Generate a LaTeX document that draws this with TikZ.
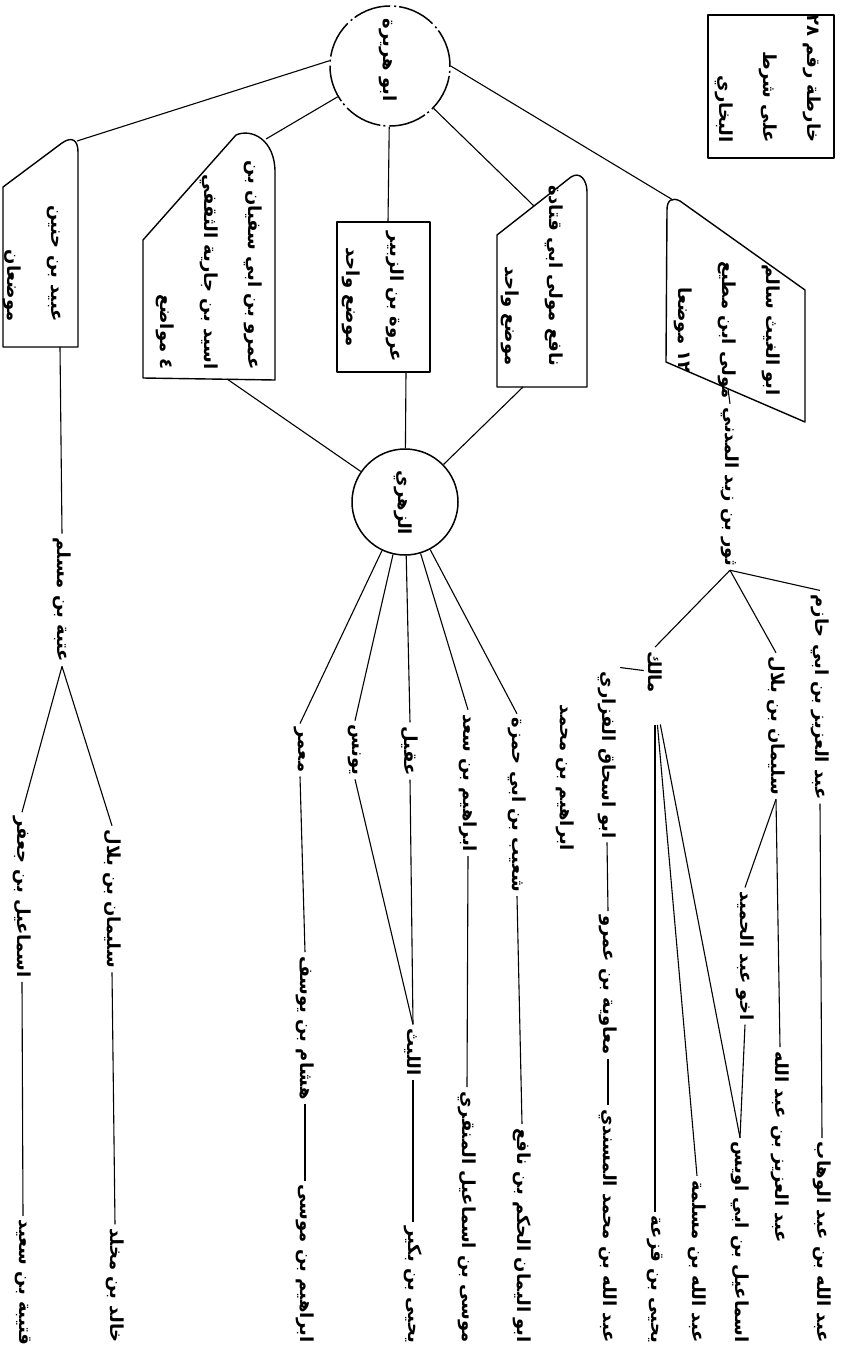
\documentclass[tikz,border=0pt]{standalone}
\usepackage{fontspec}
\TeXXeTstate=1
\newfontfamily\arfont[Script=Arabic]{DejaVu Sans}
\newcommand{\AR}[1]{\beginR #1\endR}
\tikzset{
  lbl/.style={rotate=-90, inner sep=4pt, font=\arfont\bfseries\fontsize{18}{44}\selectfont},
  lblr/.style={lbl, align=right},
  lblc/.style={lbl, align=center},
  conn/.style={line width=1.1pt},
  boxline/.style={line width=1.4pt, line join=round},
  circ/.style={circle, draw, line width=1.5pt, inner sep=0pt},
}
\begin{document}
\begin{tikzpicture}[x=1pt,y=-1pt]
\fill[white] (0,0) rectangle (848,1357);
\useasboundingbox (0,0) rectangle (848,1357);

% legend
\draw[boxline] (708,15) rectangle (834,158);
\node[lblr, anchor=east] (legend) at (768,147) {\AR{خارطة رقم ٢٨}\\\AR{على شرط}\\\AR{البخاري}};

% root
\node[circ, minimum size=120pt, dash pattern=on 38pt off 3pt on 2pt off 4pt] (root) at (390,66) {};
\node[lbl] (roott) at (388,60) {\AR{ابو هريرة}};

% box a
\draw[boxline] (3,347) -- (3,187) -- (62,143) .. controls (72,136) and (78,140) .. (78,152) -- (78,347) -- cycle;
\coordinate (atop) at (77,141);
\coordinate (abot) at (60,347);
\node[lblr, anchor=east] (at) at (32,326) {\AR{عبيد بن حنين}\\\AR{موضعان}};

% box b
\draw[boxline] (143,378) -- (143,240) -- (236,135) .. controls (252,128) and (275,140) .. (275,172) -- (275,380) -- cycle;
\coordinate (btop) at (266,139);
\coordinate (bbot) at (227,379);
\node[lblr, anchor=east] (bt) at (209,374) {\AR{عمرو بن ابي سفيان بن}\\\AR{اسيد بن جارية الثقفي}\\\AR{٤ مواضع}};

% box c
\draw[boxline] (337,222) rectangle (430,372);
\coordinate (ctop) at (388,222);
\coordinate (cbot) at (406,372);
\node[lblc] (ct) at (373,297) {\AR{عروة بن الزبير}\\\AR{موضع واحد}};

% box d
\draw[boxline] (497,387) -- (497,235) -- (571,177) .. controls (580,171) and (587,180) .. (587,192) -- (587,387) -- cycle;
\coordinate (dmid) at (534,206);
\coordinate (dbot) at (523,387);
\node[lblr, anchor=east] (dt) at (532,370) {\AR{نافع مولى ابي قتادة}\\\AR{موضع واحد}};

% box e
\draw[boxline] (666,362) -- (667,210) .. controls (667,200) and (672,197) .. (680,201) -- (805,290) -- (805,422) -- cycle;
\coordinate (etop) at (673,200);
\coordinate (ebot) at (728,389);
\node[lblc] (et) at (727,330) {\AR{ابو الغيث سالم}\\\AR{مولى ابن مطيع}\\\AR{١٢ موضعا}};

% zuhri
\node[circ, minimum size=106pt] (zuhri) at (405,502) {};
\node[lbl] (zuhrit) at (403,503) {\AR{الزهري}};

% thawr branch
\node[lbl] (thawr) at (730,487) {\AR{ثور بن زيد المدني}};
\node[lbl] (azhazim) at (820,697) {\AR{عبد العزيز بن ابي حازم}};
\node[lbl] (sulay1) at (776,726) {\AR{سليمان بن بلال}};
\node[lbl] (malik) at (655,672) {\AR{مالك}};
\node[lbl] (fazari) at (607,755) {\AR{ابو اسحاق الفزاري}};
\node[lbl] (ibmuh) at (565,778) {\AR{ابراهيم بن محمد}};
\node[lbl, anchor=east] (abwahhab) at (822,1347) {\AR{عبد الله بن عبد الوهاب}};
\node[lbl, anchor=east] (azabdallah) at (780,1247) {\AR{عبد العزيز بن عبد الله}};
\node[lbl] (akhu) at (745,956) {\AR{اخو عبد الحميد}};
\node[lbl, anchor=east] (ismuways) at (740,1347) {\AR{اسماعيل بن ابي اويس}};
\node[lbl, anchor=east] (abmaslama) at (697,1347) {\AR{عبد الله بن مسلمة}};
\node[lbl, anchor=east] (yahqaza) at (655,1347) {\AR{يحيى بن قزعة}};
\node[lbl] (muawiya) at (608,985) {\AR{معاوية بن عمرو}};
\node[lbl, anchor=east] (musnadi) at (608,1347) {\AR{عبد الله بن محمد المسندي}};

% zuhri branch
\node[lbl] (shuayb) at (517,805) {\AR{شعيب بن ابي حمزة}};
\node[lbl] (ibsaad) at (468,783) {\AR{ابراهيم بن سعد}};
\node[lbl] (uqayl) at (410,751) {\AR{عقيل}};
\node[lbl] (yunus) at (355,750) {\AR{يونس}};
\node[lbl] (mamar) at (300,750) {\AR{معمر}};
\node[lbl, anchor=east] (abulyaman) at (522,1347) {\AR{ابو اليمان الحكم بن نافع}};
\node[lbl, anchor=east] (musa) at (467,1347) {\AR{موسى بن اسماعيل المنقري}};
\node[lbl] (layth) at (413,1052) {\AR{الليث}};
\node[lbl, anchor=east] (yahbukayr) at (413,1347) {\AR{يحيى بن بكير}};
\node[lbl] (hisham) at (305,1028) {\AR{هشام بن يوسف}};
\node[lbl, anchor=east] (ibmusa) at (305,1347) {\AR{ابراهيم بن موسى}};

% ubayd branch
\node[lbl] (utba) at (62,600) {\AR{عتبة بن مسلم}};
\node[lbl] (ismjafar) at (22,897) {\AR{اسماعيل بن جعفر}};
\node[lbl] (sulay2) at (112,899) {\AR{سليمان بن بلال}};
\node[lbl, anchor=east] (qutayba) at (23,1350) {\AR{قتيبة بن سعيد}};
\node[lbl, anchor=east] (khalid) at (115,1347) {\AR{خالد بن مخلد}};

% connectors from root
\draw[conn] (root.175) -- (atop);
\draw[conn] (root) -- (btop);
\draw[conn] (root) -- (ctop);
\draw[conn] (root) -- (dmid);
\draw[conn] (root.east) -- (etop);

% into zuhri
\draw[conn] (bbot) -- (zuhri);
\draw[conn] (cbot) -- (zuhri);
\draw[conn] (dbot) -- (zuhri);

% thawr
\draw[conn] (ebot) -- (thawr.west);
\draw[conn] (thawr.east) -- (azhazim.west);
\draw[conn] (thawr.east) -- (sulay1.west);
\draw[conn] (thawr.east) -- (malik.west);
\draw[conn] (malik) -- (fazari.north west);
\draw[conn] (azhazim.east) -- (abwahhab.west);
\draw[conn] (sulay1.east) -- (azabdallah.west);
\draw[conn] (sulay1.east) -- (akhu.west);
\draw[conn] (akhu.east) -- (ismuways.west);
\draw[conn, shorten <=28pt] (malik.east) -- (yahqaza.west);
\draw[conn, shorten <=28pt] (malik.east) -- (abmaslama.west);
\draw[conn, shorten <=28pt] (malik.east) -- (ismuways.west);
\draw[conn] (fazari.east) -- (muawiya.west);
\draw[conn] (muawiya.east) -- (musnadi.west);

% zuhri students
\draw[conn] (zuhri) -- (shuayb.west);
\draw[conn] (zuhri) -- (ibsaad.west);
\draw[conn] (zuhri) -- (uqayl.west);
\draw[conn] (zuhri) -- (yunus.west);
\draw[conn] (zuhri) -- (mamar.west);
\draw[conn] (shuayb.east) -- (abulyaman.west);
\draw[conn] (ibsaad.east) -- (musa.west);
\draw[conn] (uqayl.east) -- (layth.west);
\draw[conn] (yunus.east) -- (layth.west);
\draw[conn] (layth.east) -- (yahbukayr.west);
\draw[conn] (mamar.east) -- (hisham.west);
\draw[conn] (hisham.east) -- (ibmusa.west);

% ubayd branch
\draw[conn] (abot) -- (utba.west);
\draw[conn] (utba.east) -- (ismjafar.west);
\draw[conn] (utba.east) -- (sulay2.west);
\draw[conn] (ismjafar.east) -- (qutayba.west);
\draw[conn] (sulay2.east) -- (khalid.west);
\end{tikzpicture}
\end{document}
